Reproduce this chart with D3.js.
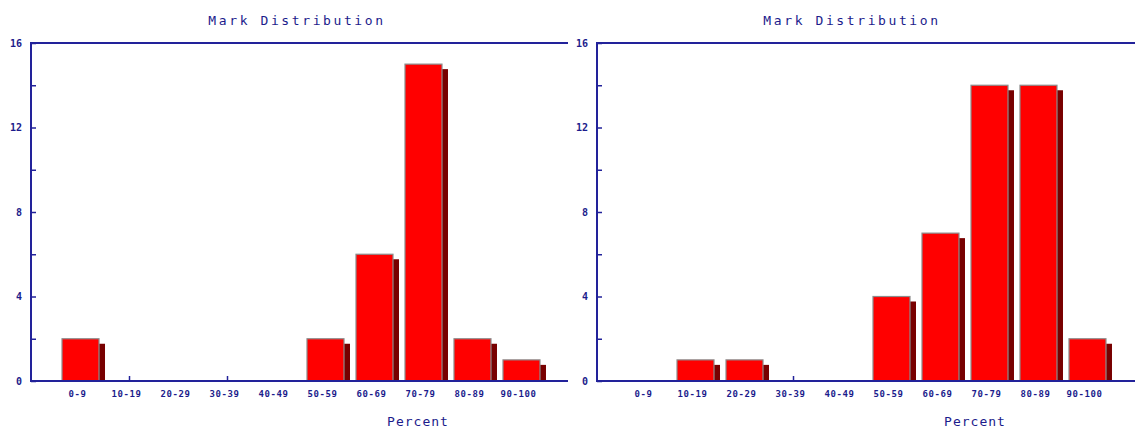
<!DOCTYPE html>
<html>
<head>
<meta charset="utf-8">
<script src="https://cdn.jsdelivr.net/npm/d3@7"></script>
<style>
  html, body { margin: 0; padding: 0; background: #fff; }
  svg { display: block; }
  .lbl { font-family: "DejaVu Sans Mono", monospace; fill: #1c1c8c; }
</style>
</head>
<body>
<svg id="chart" width="1135" height="445"></svg>
<script>
// ---- data ----
const categories = ["0-9", "10-19", "20-29", "30-39", "40-49", "50-59", "60-69", "70-79", "80-89", "90-100"];
const leftValues = [2, 0, 0, 0, 0, 2, 6, 15, 2, 1];
const rightValues = [0, 1, 1, 0, 0, 4, 7, 14, 14, 2];
const yTickValues = [0, 4, 8, 12, 16];
const yMinorTicks = [2, 6, 10, 14];
const chartTitle = "Mark Distribution";
const xAxisTitle = "Percent";

// ---- layout ----
const navy = "#22229a";
const panels = [
  { values: leftValues, x0: 31, x1: 568, titleX: 297, percentX: 418 },
  { values: rightValues, x0: 597, x1: 1135, titleX: 852, percentX: 975 }
];
const yTop = 43, yBottom = 381;
const svg = d3.select("#chart");

panels.forEach(p => {
  const g = svg.append("g");
  const x = d3.scaleBand()
    .domain(categories)
    .range([p.x0, p.x0 + 540])
    .paddingInner(0.245)
    .paddingOuter(0.633);
  const y = d3.scaleLinear().domain([0, 16]).range([yBottom, yTop]);

  // title
  g.append("text").attr("class", "lbl")
    .attr("x", p.titleX).attr("y", 25)
    .attr("text-anchor", "middle")
    .style("font-size", "13px").style("letter-spacing", "2.6px")
    .text(chartTitle);

  // x-axis upward ticks on alternate categories (behind bars)
  const xt = g.append("g").attr("transform", `translate(0,${yBottom})`)
    .call(d3.axisBottom(x)
      .tickValues(categories.filter((d, i) => i % 2 === 1))
      .tickSize(-5).tickFormat(""));
  xt.select(".domain").remove();
  xt.selectAll("line").attr("stroke", navy).attr("stroke-width", 1.5);

  // shadows
  const data = categories.map((c, i) => ({ c, v: p.values[i] })).filter(d => d.v > 0);
  g.selectAll("rect.shadow").data(data).enter().append("rect")
    .attr("class", "shadow")
    .attr("x", d => x(d.c) + 6)
    .attr("y", d => y(d.v) + 5)
    .attr("width", x.bandwidth())
    .attr("height", d => yBottom - y(d.v) - 5)
    .attr("fill", "#780000");
  // bars
  g.selectAll("rect.bar").data(data).enter().append("rect")
    .attr("class", "bar")
    .attr("x", d => x(d.c))
    .attr("y", d => y(d.v))
    .attr("width", x.bandwidth())
    .attr("height", d => yBottom - y(d.v))
    .attr("fill", "#ff0000")
    .attr("stroke", "#8c8c8c")
    .attr("stroke-width", 1.2);

  // x-axis labels
  const xa = g.append("g").attr("transform", `translate(0,${yBottom})`)
    .call(d3.axisBottom(x).tickSize(0).tickPadding(10));
  xa.select(".domain").remove();
  xa.selectAll("text")
    .attr("class", "lbl").attr("dx", -3)
    .style("font-size", "9px").style("font-weight", "bold")
    .style("letter-spacing", "0.6px");

  // y-axis
  const ya = g.append("g").attr("transform", `translate(${p.x0},0)`)
    .call(d3.axisLeft(y).tickValues(yTickValues).tickSize(-5).tickPadding(9).tickFormat(d3.format("d")));
  ya.select(".domain").remove();
  ya.selectAll("line").attr("stroke", navy).attr("stroke-width", 1.5);
  ya.selectAll("text").attr("class", "lbl")
    .style("font-size", "10px").style("font-weight", "bold");
  const ym = g.append("g").attr("transform", `translate(${p.x0},0)`)
    .call(d3.axisLeft(y).tickValues(yMinorTicks).tickSize(-5).tickFormat(""));
  ym.select(".domain").remove();
  ym.selectAll("line").attr("stroke", navy).attr("stroke-width", 1.5);

  // frame: left, top, bottom
  g.append("path")
    .attr("d", `M${p.x1},${yTop}H${p.x0}V${yBottom}H${p.x1}`)
    .attr("fill", "none").attr("stroke", navy).attr("stroke-width", 2);

  // x axis title
  g.append("text").attr("class", "lbl")
    .attr("x", p.percentX).attr("y", 426)
    .attr("text-anchor", "middle")
    .style("font-size", "13px").style("letter-spacing", "1px")
    .text(xAxisTitle);
});
</script>
</body>
</html>
